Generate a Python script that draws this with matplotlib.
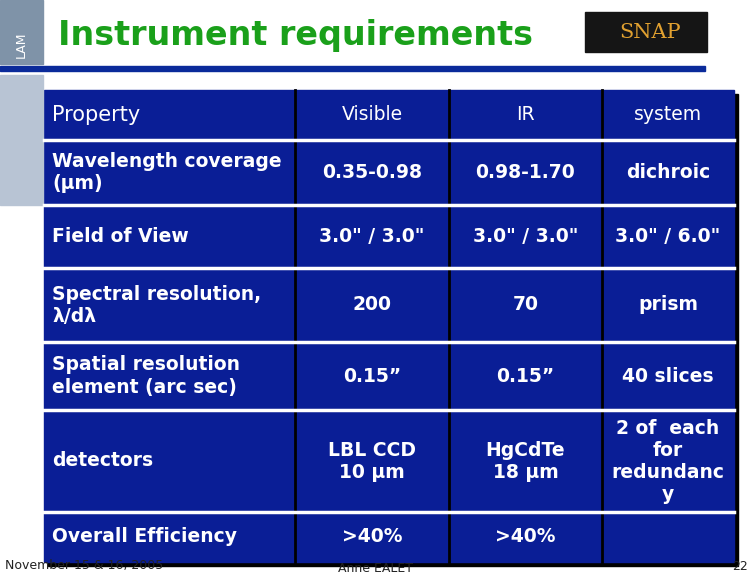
import matplotlib
matplotlib.use("Agg")
import matplotlib.pyplot as plt
from matplotlib.patches import Rectangle

# table content
header = ["Property", "Visible", "IR", "system"]
rows = [
    ["Wavelength coverage\n(\u03bcm)", "0.35-0.98", "0.98-1.70", "dichroic"],
    ["Field of View", '3.0" / 3.0"', '3.0" / 3.0"', '3.0" / 6.0"'],
    ["Spectral resolution,\n\u03bb/d\u03bb", "200", "70", "prism"],
    ["Spatial resolution\nelement (arc sec)", "0.15\u201d", "0.15\u201d", "40 slices"],
    ["detectors", "LBL CCD\n10 \u03bcm", "HgCdTe\n18 \u03bcm", "2 of  each\nfor\nredundanc\ny"],
    ["Overall Efficiency", ">40%", ">40%", ""],
]
col_edges = [44, 295, 449, 602, 734]
row_edges = [90, 140, 205, 268, 342, 410, 512, 562]

fig = plt.figure(figsize=(7.56, 5.76), dpi=100)
ax = fig.add_axes([0, 0, 1, 1])
ax.set_xlim(0, 756)
ax.set_ylim(576, 0)
ax.axis("off")

blue = "#0a1e96"
# shadow + background
ax.add_patch(Rectangle((col_edges[0] + 4, row_edges[0] + 4), col_edges[-1] - col_edges[0],
                       row_edges[-1] - row_edges[0], color="black"))
ax.add_patch(Rectangle((col_edges[0], row_edges[0]), col_edges[-1] - col_edges[0],
                       row_edges[-1] - row_edges[0], color=blue))
for x in col_edges[1:-1]:
    ax.plot([x, x], [row_edges[0], row_edges[-1]], color="black", lw=2)
for y in row_edges[1:-1]:
    ax.plot([col_edges[0], col_edges[-1]], [y, y], color="white", lw=2.5)

all_rows = [header] + rows
for r, cells in enumerate(all_rows):
    yc = (row_edges[r] + row_edges[r + 1]) / 2
    for c, txt in enumerate(cells):
        bold = r > 0
        size = 13.5
        if r == 0 and c == 0:
            size = 15
        if c == 0:
            ax.text(col_edges[0] + 8, yc, txt, color="white", fontsize=size, va="center", ha="left",
                    fontweight="bold" if bold else "normal", linespacing=1.2)
        else:
            xc = (col_edges[c] + col_edges[c + 1]) / 2
            ax.text(xc, yc, txt, color="white", fontsize=size, va="center", ha="center",
                    fontweight="bold" if bold else "normal", linespacing=1.2)

# title and rule
ax.text(58, 35, "Instrument requirements", color="#1aa01a", fontsize=24, fontweight="bold", va="center")
ax.add_patch(Rectangle((0, 66), 705, 5, color="#0a2a9a"))

# logos (rough stand-ins)
ax.add_patch(Rectangle((0, 0), 43, 64, color="#7f93a8"))
ax.text(21, 45, "LAM", color="white", fontsize=9, rotation=90, ha="center", va="center")
ax.add_patch(Rectangle((0, 75), 43, 130, color="#b8c4d4"))
ax.add_patch(Rectangle((585, 12), 122, 40, color="#151515"))
ax.text(650, 32, "SNAP", color="#e0a030", fontsize=15, ha="center", va="center", family="DejaVu Serif")

# footer
ax.text(5, 566, "November 15 & 16, 2005", fontsize=9, color="#222222", va="center")
ax.text(375, 568, "Anne EALET", fontsize=9, color="#222222", va="center", ha="center")
ax.text(748, 567, "22", fontsize=9, color="#222222", va="center", ha="right")

fig.savefig("out.png", dpi=100)
